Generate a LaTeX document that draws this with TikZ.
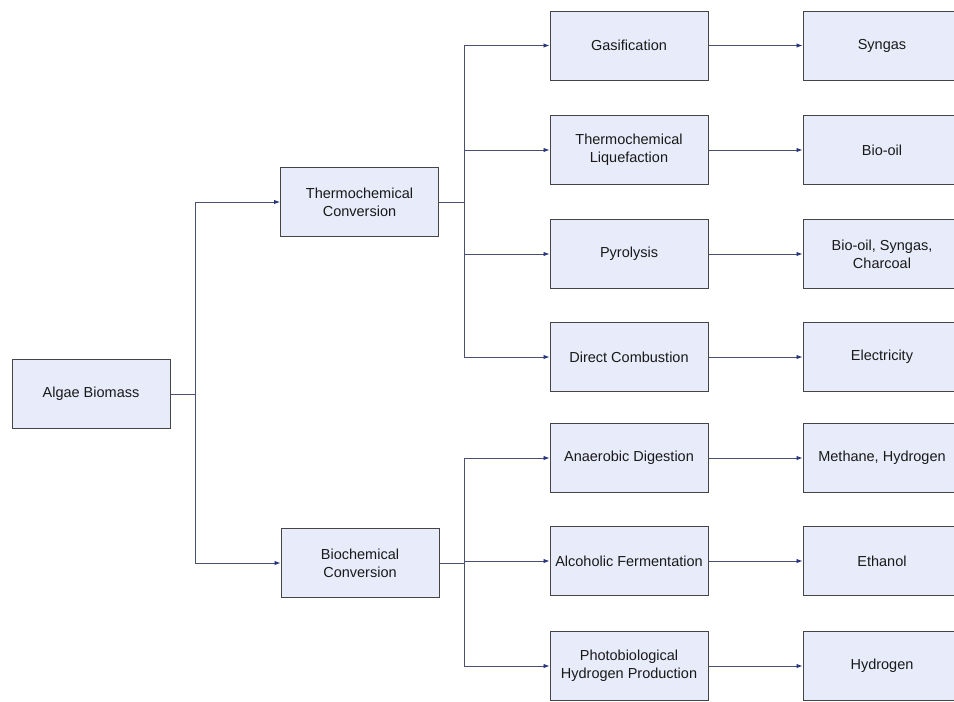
\documentclass[tikz,border=0pt]{standalone}
\usepackage{fontspec}
\setmainfont{Liberation Sans}
\usetikzlibrary{arrows.meta}
\definecolor{boxfill}{HTML}{E8ECFA}
\definecolor{boxdraw}{HTML}{454545}
\definecolor{linecol}{HTML}{4A5070}
\definecolor{tipcol}{HTML}{2A3580}
\begin{document}
\begin{tikzpicture}[x=1pt,y=-1pt,
  box/.style={draw=boxdraw,line width=1pt,fill=boxfill,minimum width=158pt,minimum height=69pt,
    align=center,inner sep=2pt,font=\fontsize{14.5}{18}\selectfont,text=black!90},
  conn/.style={draw=linecol,line width=0.9pt},
  arr/.style={conn,-{Latex[length=6pt,width=4.5pt,color=tipcol]}}]
\useasboundingbox (0,0) rectangle (954,702);
\node[box] (alg) at (91,394) {Algae Biomass};
\node[box] (th) at (359.5,202) {Thermochemical\\Conversion};
\node[box] (bio) at (360,563) {Biochemical\\Conversion};
\node[box] (gas) at (629,45.5) {Gasification};
\node[box] (liq) at (629,150) {Thermochemical\\Liquefaction};
\node[box] (pyr) at (629,254) {Pyrolysis};
\node[box] (com) at (629,357) {Direct Combustion};
\node[box] (ana) at (629,458) {Anaerobic Digestion};
\node[box] (alc) at (629,561) {Alcoholic Fermentation};
\node[box] (pho) at (629,666) {Photobiological\\Hydrogen Production};
\node[box] (syn) at (882,45.5) {Syngas};
\node[box] (oil) at (882,150) {Bio-oil};
\node[box] (mix) at (882,254) {Bio-oil, Syngas,\\Charcoal};
\node[box] (ele) at (882,357) {Electricity};
\node[box] (met) at (882,458) {Methane, Hydrogen};
\node[box] (eth) at (882,561) {Ethanol};
\node[box] (hyd) at (882,666) {Hydrogen};
\coordinate (j1) at (195,394);
\coordinate (j2) at (464,202);
\coordinate (j3) at (464,563);
\draw[conn] (alg.east) -- (j1);
\draw[arr] (j1) |- (th.west);
\draw[arr] (j1) |- (bio.west);
\draw[conn] (th.east) -- (j2);
\foreach \n in {gas,liq,pyr,com} \draw[arr] (j2) |- (\n.west);
\draw[conn] (bio.east) -- (j3);
\foreach \n in {ana,alc,pho} \draw[arr] (j3) |- (\n.west);
\draw[arr] (gas.east) -- (syn.west);
\draw[arr] (liq.east) -- (oil.west);
\draw[arr] (pyr.east) -- (mix.west);
\draw[arr] (com.east) -- (ele.west);
\draw[arr] (ana.east) -- (met.west);
\draw[arr] (alc.east) -- (eth.west);
\draw[arr] (pho.east) -- (hyd.west);
\end{tikzpicture}
\end{document}
